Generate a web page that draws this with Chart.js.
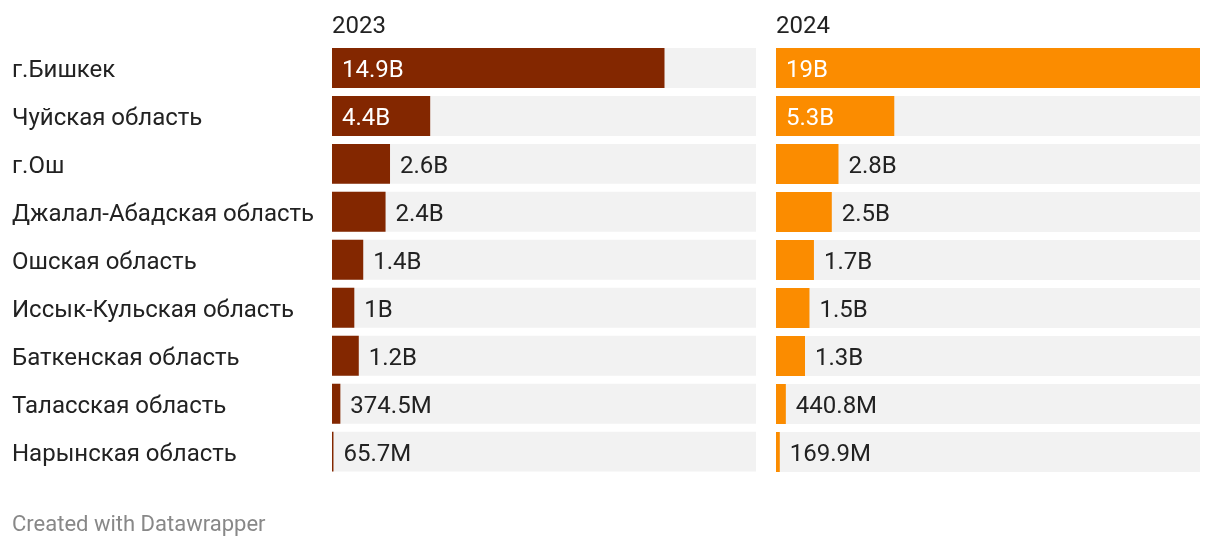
<!DOCTYPE html>
<html>
<head>
<meta charset="utf-8">
<script src="https://cdn.jsdelivr.net/npm/chart.js@4/dist/chart.umd.min.js"></script>
<style>
  body { margin: 0; background: #fff; }
  .wrap { position: relative; width: 1220px; height: 548px; }
  canvas { position: absolute; top: 0; }
  #chart-2023 { left: 0; }
  #chart-2024 { left: 776px; }
</style>
</head>
<body>
<div class="wrap">
  <canvas id="chart-2023" width="756" height="548"></canvas>
  <canvas id="chart-2024" width="424" height="548"></canvas>
</div>
<script>
const regions = ["г.Бишкек", "Чуйская область", "г.Ош", "Джалал-Абадская область", "Ошская область",
  "Иссык-Кульская область", "Баткенская область", "Таласская область", "Нарынская область"];
const values2023 = [14.9e9, 4.4e9, 2.6e9, 2.4e9, 1.4e9, 1.0e9, 1.2e9, 374.5e6, 65.7e6];
const values2024 = [19e9, 5.3e9, 2.8e9, 2.5e9, 1.7e9, 1.5e9, 1.3e9, 440.8e6, 169.9e6];
const scaleMax = 19e9;

const textColor = "#222222";
const trackColor = "#f2f2f2";
const fontFamily = "Roboto, 'Noto Sans', sans-serif";

function formatValue(v) {
  if (v >= 1e9) return +(v / 1e9).toFixed(1) + "B";
  return +(v / 1e6).toFixed(1) + "M";
}

// value labels: inside the bar when it fits, otherwise just after it
const valueLabels = {
  id: "valueLabels",
  afterDatasetsDraw(chart) {
    const ctx = chart.ctx;
    const meta = chart.getDatasetMeta(0);
    const data = chart.data.datasets[0].data;
    ctx.save();
    ctx.font = "24px " + fontFamily;
    ctx.textBaseline = "middle";
    ctx.textAlign = "left";
    meta.data.forEach((bar, i) => {
      const txt = formatValue(data[i]);
      const w = ctx.measureText(txt).width;
      const barW = bar.x - bar.base;
      if (w + 20 < barW) {
        ctx.fillStyle = "#ffffff";
        ctx.fillText(txt, bar.base + 10, bar.y + 3);
      } else {
        ctx.fillStyle = textColor;
        ctx.fillText(txt, bar.x + 10, bar.y + 3);
      }
    });
    ctx.restore();
  }
};

function makeChart(canvasId, year, values, color, showLabels) {
  return new Chart(document.getElementById(canvasId), {
    type: "bar",
    data: {
      labels: regions,
      datasets: [
        { data: values, backgroundColor: color, grouped: false },
        { data: regions.map(() => scaleMax), backgroundColor: trackColor, grouped: false }
      ]
    },
    options: {
      indexAxis: "y",
      responsive: false,
      animation: false,
      events: [],
      layout: { padding: showLabels ? { left: 12, right: 0, top: 0, bottom: 0 } : { left: 0, right: 0, top: 0, bottom: 72 } },
      datasets: { bar: { barPercentage: 40 / 48, categoryPercentage: 1, borderWidth: 0 } },
      scales: {
        x: {
          position: "top",
          min: 0,
          max: scaleMax,
          grid: { display: false },
          border: { display: false },
          ticks: { display: false },
          title: {
            display: true, text: year, align: "start", color: textColor,
            font: { family: fontFamily, size: 24 }, padding: { top: 13, bottom: 0 }
          },
          afterFit: s => { s.height = 44; }
        },
        y: {
          display: showLabels,
          grid: { display: false },
          border: { display: false },
          ticks: {
            crossAlign: "far", color: textColor, padding: 0, labelOffset: 3,
            font: { family: fontFamily, size: 24 }
          },
          afterFit: s => { if (showLabels) s.width = 320; }
        }
      },
      plugins: {
        legend: { display: false },
        tooltip: { enabled: false },
        title: {
          display: showLabels,
          position: "bottom",
          align: "start",
          text: "Created with Datawrapper",
          color: "#888888",
          font: { family: fontFamily, size: 22, weight: "normal" },
          padding: { top: 37, bottom: 9 }
        }
      }
    },
    plugins: [valueLabels]
  });
}

makeChart("chart-2023", "2023", values2023, "#832700", true);
makeChart("chart-2024", "2024", values2024, "#fb8c00", false);
</script>
</body>
</html>
